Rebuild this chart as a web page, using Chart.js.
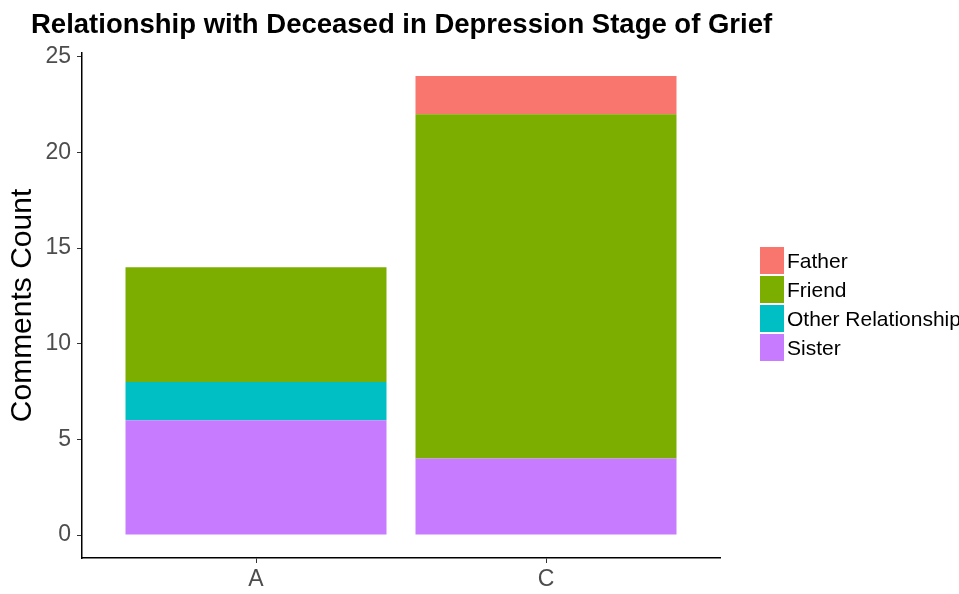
<!DOCTYPE html>
<html>
<head>
<meta charset="utf-8">
<script src="https://cdn.jsdelivr.net/npm/chart.js@4"></script>
<style>
    html, body { margin: 0; padding: 0; background: #ffffff; overflow: hidden; }
    #wrap { position: relative; width: 959px; height: 594px; }
    #legend { position: absolute; left: 760px; top: 246px; white-space: nowrap;
              font-family: "Liberation Sans", Arial, sans-serif; font-size: 21px; color: #000000; }
    .item { height: 29px; display: flex; align-items: center; }
    .box { width: 24px; height: 27px; margin-right: 3px; }
</style>
</head>
<body>
<div id="wrap">
    <canvas id="griefChart" width="959" height="594"></canvas>
    <div id="legend"></div>
</div>
<script>
// Data
const categories = ['A', 'C'];
const sister = [6, 4];
const otherRelationship = [2, 0];
const friend = [6, 18];
const father = [0, 2];
const yTicks = [0, 5, 10, 15, 20, 25];

const FONT = '"Liberation Sans", Arial, sans-serif';

// bottom of the stack first
const series = [
    { label: 'Sister', values: sister, color: '#C77CFF' },
    { label: 'Other Relationship', values: otherRelationship, color: '#00BFC4' },
    { label: 'Friend', values: friend, color: '#7CAE00' },
    { label: 'Father', values: father, color: '#F8766D' }
];

const datasets = series.map(s => ({
    label: s.label,
    data: s.values.map((v, i) => ({ x: i + 1, y: v })),
    backgroundColor: s.color,
    borderWidth: 0,
    barPercentage: 0.9,
    categoryPercentage: 1
}));

// Title drawn left-aligned like ggplot
const titlePlugin = {
    id: 'plotTitle',
    afterDraw(chart) {
        const c = chart.ctx;
        c.save();
        c.font = 'bold 27.5px ' + FONT;
        c.fillStyle = '#000000';
        c.textBaseline = 'alphabetic';
        c.textAlign = 'left';
        c.fillText('Relationship with Deceased in Depression Stage of Grief', 31, 33);
        c.restore();
    }
};

const ctx = document.getElementById('griefChart').getContext('2d');
const griefChart = new Chart(ctx, {
    type: 'bar',
    data: { datasets: datasets },
    plugins: [titlePlugin],
    options: {
        responsive: false,
        animation: false,
        layout: { padding: { top: 53, right: 239, left: 0, bottom: 0 } },
        plugins: {
            legend: { display: false },
            tooltip: { enabled: false }
        },
        scales: {
            x: {
                type: 'linear',
                stacked: true,
                min: 0.4,
                max: 2.6,
                offset: false,
                afterBuildTicks: scale => { scale.ticks = categories.map((c, i) => ({ value: i + 1 })); },
                afterFit: scale => { scale.height = 36; },
                ticks: {
                    color: '#4D4D4D',
                    font: { family: FONT, size: 23 },
                    padding: 3,
                    maxRotation: 0,
                    callback: v => categories[v - 1]
                },
                grid: { display: true, offset: false, drawOnChartArea: false, drawTicks: true, tickLength: 5, color: '#333333', lineWidth: 1 },
                border: { display: true, color: '#000000', width: 1.5 }
            },
            y: {
                type: 'linear',
                stacked: true,
                min: -1.2,
                max: 25.2,
                afterBuildTicks: scale => { scale.ticks = yTicks.map(v => ({ value: v })); },
                afterFit: scale => { scale.width = 82; },
                ticks: {
                    color: '#4D4D4D',
                    font: { family: FONT, size: 23 },
                    padding: 6
                },
                grid: { display: true, drawOnChartArea: false, drawTicks: true, tickLength: 5, color: '#333333', lineWidth: 1 },
                border: { display: true, color: '#000000', width: 1.5 },
                title: {
                    display: true,
                    text: 'Comments Count',
                    color: '#000000',
                    font: { family: FONT, size: 30 },
                    padding: { top: 5, bottom: 0 }
                }
            }
        }
    }
});

// Legend, listed top of the stack first
const legendEl = document.getElementById('legend');
series.slice().reverse().forEach(s => {
    const row = document.createElement('div');
    row.className = 'item';
    row.innerHTML = `<span class="box" style="background:${s.color}"></span><span>${s.label}</span>`;
    legendEl.appendChild(row);
});
</script>
</body>
</html>
